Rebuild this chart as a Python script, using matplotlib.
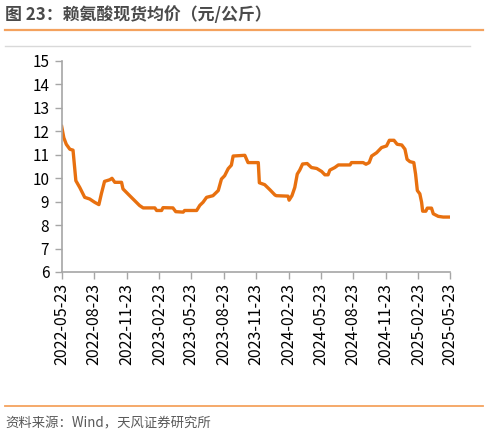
import pandas as pd
import matplotlib
matplotlib.use('Agg')
import matplotlib.pyplot as plt
from matplotlib.lines import Line2D

plt.rcParams['font.family'] = ['Noto Sans CJK SC', 'DejaVu Sans']

# 赖氨酸现货均价（元/公斤）
datas = ['2022-05-23', '2022-05-29', '2022-06-05', '2022-06-15', '2022-06-24', '2022-07-02',
         '2022-07-13', '2022-07-27', '2022-08-10', '2022-08-24', '2022-09-05', '2022-09-12',
         '2022-09-21', '2022-10-06', '2022-10-12', '2022-10-20', '2022-11-08', '2022-11-12',
         '2022-12-01', '2022-12-15', '2022-12-29', '2023-01-08', '2023-02-10', '2023-02-15',
         '2023-03-01', '2023-03-05', '2023-04-02', '2023-04-10', '2023-05-01', '2023-05-05',
         '2023-06-08', '2023-06-17', '2023-06-26', '2023-07-06', '2023-07-24', '2023-08-08',
         '2023-08-17', '2023-08-26', '2023-09-05', '2023-09-14', '2023-09-19', '2023-10-22',
         '2023-10-31', '2023-11-29', '2023-12-02', '2023-12-17', '2024-01-01', '2024-01-15',
         '2024-01-19', '2024-02-21', '2024-02-24', '2024-03-03', '2024-03-11', '2024-03-18',
         '2024-03-25', '2024-04-02', '2024-04-15', '2024-04-27', '2024-05-12', '2024-05-26',
         '2024-06-04', '2024-06-13', '2024-06-18', '2024-07-02', '2024-07-12', '2024-08-14',
         '2024-08-18', '2024-09-20', '2024-09-28', '2024-10-07', '2024-10-14', '2024-10-28',
         '2024-11-11', '2024-11-25', '2024-12-03', '2024-12-16', '2024-12-25', '2025-01-07',
         '2025-01-16', '2025-01-22', '2025-01-30', '2025-02-10', '2025-02-15', '2025-02-20',
         '2025-02-27', '2025-03-04', '2025-03-07', '2025-03-16', '2025-03-20', '2025-04-01',
         '2025-04-06', '2025-04-20', '2025-05-04', '2025-05-23']
precos = [12.2, 11.72, 11.44, 11.23, 11.19, 9.89,
          9.6, 9.18, 9.11, 8.97, 8.87, 9.33,
          9.86, 9.93, 9.99, 9.82, 9.82, 9.54,
          9.25, 9.04, 8.83, 8.73, 8.73, 8.62,
          8.62, 8.74, 8.73, 8.57, 8.55, 8.62,
          8.62, 8.84, 8.97, 9.18, 9.25, 9.47,
          9.96, 10.1, 10.4, 10.55, 10.94, 10.97,
          10.66, 10.66, 9.8, 9.72, 9.5, 9.28,
          9.25, 9.23, 9.06, 9.25, 9.6, 10.17,
          10.34, 10.6, 10.62, 10.45, 10.41, 10.28,
          10.14, 10.14, 10.34, 10.45, 10.56, 10.56,
          10.66, 10.66, 10.59, 10.66, 10.94, 11.08,
          11.3, 11.37, 11.61, 11.61, 11.44, 11.41,
          11.23, 10.8, 10.7, 10.66, 10.17, 9.47,
          9.33, 8.97, 8.59, 8.59, 8.72, 8.72,
          8.48, 8.37, 8.34, 8.34]

ticks_x = ['2022-05-23', '2022-08-23', '2022-11-23', '2023-02-23', '2023-05-23',
           '2023-08-23', '2023-11-23', '2024-02-23', '2024-05-23', '2024-08-23',
           '2024-11-23', '2025-02-23', '2025-05-23']
ticks_y = [6, 7, 8, 9, 10, 11, 12, 13, 14, 15]

df = pd.DataFrame({'data': pd.to_datetime(datas), 'preco': precos})
tx = pd.to_datetime(ticks_x)

fig = plt.figure(figsize=(4.88, 4.34), dpi=100)
ax = fig.add_axes([0.1264, 0.3733, 0.922 - 0.1264, 0.8601 - 0.3733])

ax.plot(df['data'], df['preco'], color='#E8700F', linewidth=2.4, solid_joinstyle='round')

ax.set_xlim(tx[0], tx[-1])
ax.set_ylim(6, 15)
ax.set_yticks(ticks_y)
ax.set_xticks(tx)
ax.set_xticklabels(ticks_x, rotation=90, fontsize=11.5)
ax.tick_params(axis='y', labelsize=11, length=5, width=1, color='#A6A6A6', pad=4)
ax.tick_params(axis='x', length=5, width=1, color='#A6A6A6', pad=3)
for s in ['top', 'right']:
    ax.spines[s].set_visible(False)
for s in ['left', 'bottom']:
    ax.spines[s].set_color('#A6A6A6')
    ax.spines[s].set_linewidth(1.2)

# título e linhas decorativas
fig.text(5 / 488, 1 - 15 / 434, '图 23：赖氨酸现货均价（元/公斤）', fontsize=12.2,
         fontweight='bold', color='#4a4a4a', va='center', ha='left')
fig.add_artist(Line2D([5 / 488, 483 / 488], [1 - 29.5 / 434] * 2, color='#F4A25E', linewidth=1.6))
fig.add_artist(Line2D([5 / 488, 470 / 488], [1 - 46 / 434] * 2, color='#D9D9D9', linewidth=1))
fig.add_artist(Line2D([5 / 488, 483 / 488], [1 - 406 / 434] * 2, color='#F4A25E', linewidth=1.3))
fig.text(5 / 488, 1 - 423 / 434, '资料来源：Wind，天风证券研究所', fontsize=9.6,
         color='#595959', va='center', ha='left')

fig.savefig('out.png', dpi=100)
